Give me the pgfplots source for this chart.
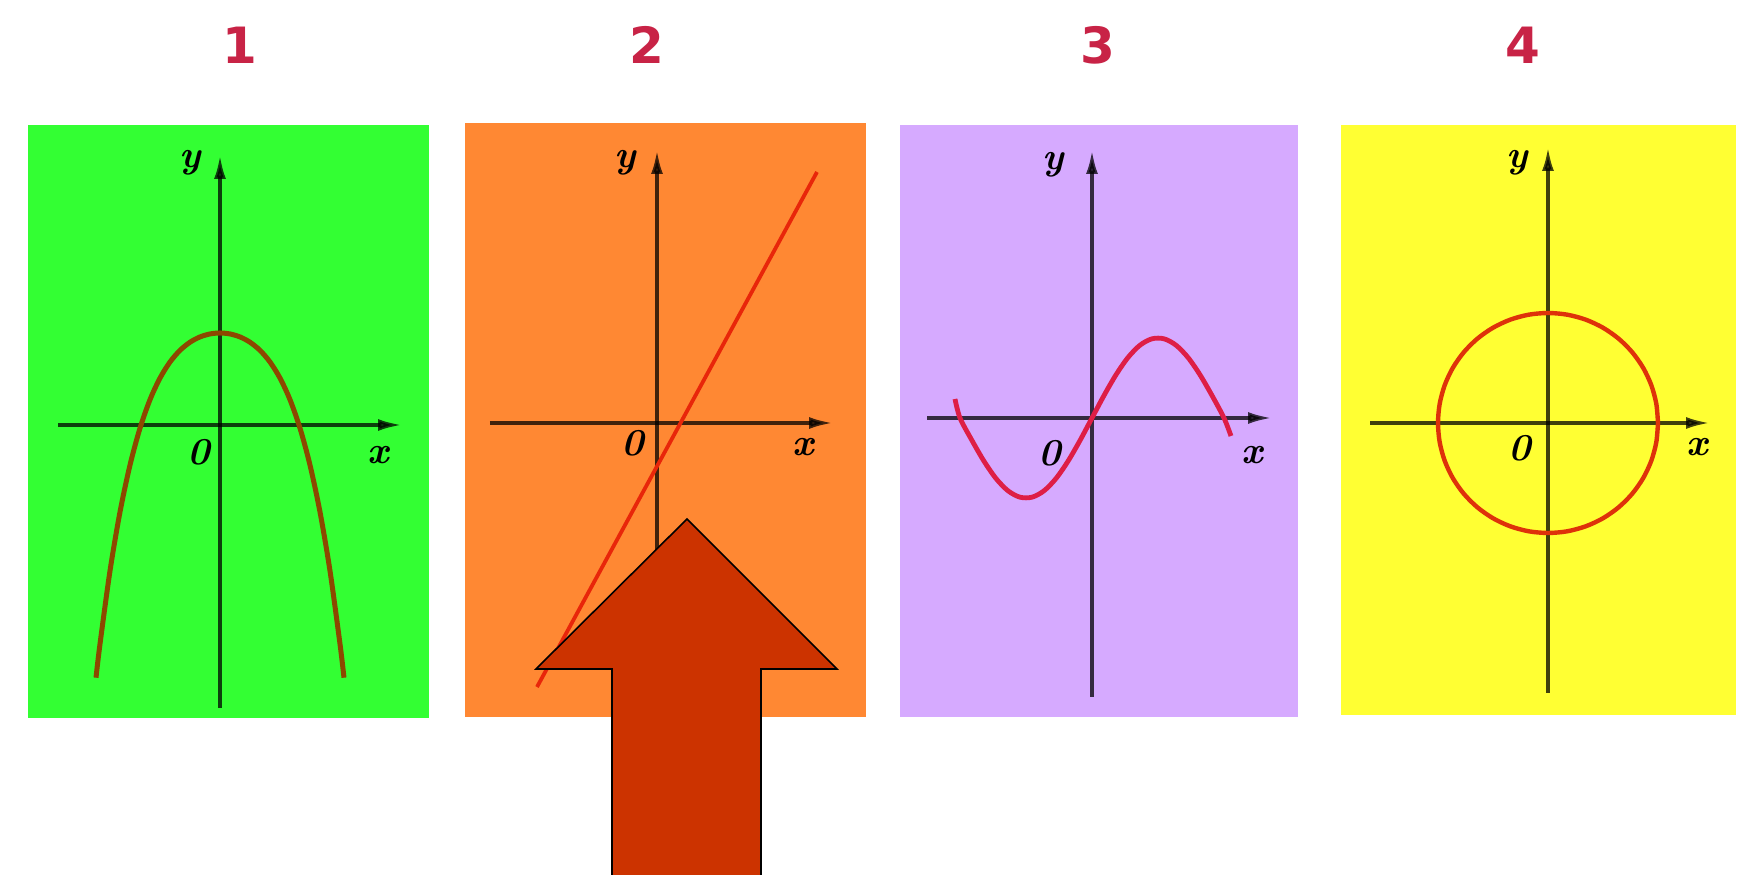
\documentclass[border=0pt]{standalone}
\usepackage{pgfplots}
\pgfplotsset{compat=1.18}
\usepackage{fontspec}
\setsansfont{DejaVu Sans}
\usetikzlibrary{arrows.meta}

\definecolor{bgA}{RGB}{51,255,51}
\definecolor{bgB}{RGB}{255,136,51}
\definecolor{bgC}{RGB}{214,170,255}
\definecolor{bgD}{RGB}{255,255,51}
\definecolor{brownline}{RGB}{140,72,0}
\definecolor{redline}{RGB}{232,38,10}
\definecolor{crimsonline}{RGB}{222,30,70}
\definecolor{circleline}{RGB}{222,50,10}
\definecolor{numc}{RGB}{200,35,70}
\definecolor{arrowc}{RGB}{204,51,0}

\pgfplotsset{
  panel/.style={
    axis lines=middle, x=0.25pt, y=0.25pt, ticks=none,
    anchor=origin, clip=false,
    axis line style={black, opacity=0.75, line width=0.85pt,
                     -{Latex[length=6pt,width=3pt]}},
  }
}
\newcommand{\lab}{\fontsize{9.5}{10}\selectfont\bfseries\itshape}
\newcommand{\num}{\fontsize{12.5}{14}\selectfont\sffamily\bfseries}

\begin{document}
\begin{tikzpicture}[x=0.25pt,y=-0.25pt]
\useasboundingbox (0,0) rectangle (1748,875);

% panel backgrounds
\fill[bgA] (28,125) rectangle (429,718);
\fill[bgB] (465,123) rectangle (866,717);
\fill[bgC] (900,125) rectangle (1298,717);
\fill[bgD] (1341,125) rectangle (1736,715);

% panel numbers
\node[numc] at (240,45) {\num 1};
\node[numc] at (647,45) {\num 2};
\node[numc] at (1098,45) {\num 3};
\node[numc] at (1523,45) {\num 4};

% 1: parabola-like curve
\begin{axis}[panel, at={(55pt,-106.25pt)}, xmin=-162, xmax=182, ymin=-283, ymax=270]
\addplot[color=brownline, line width=1.25pt, smooth] coordinates {
(-124,-252.7) (-120,-219) (-110,-145.9) (-100,-87) (-90,-40.1) (-80,-3.2) (-70,25.3)
(-60,46.9) (-50,63) (-40,74.65) (-30,82.77) (-20,88.07) (-10,91.04) (0,92)
(10,91.04) (20,88.07) (30,82.77) (40,74.65) (50,63) (60,46.9) (70,25.3) (80,-3.2)
(90,-40.1) (100,-87) (110,-145.9) (120,-219) (124,-252.7)};
\end{axis}
\node at (190,163) {\lab y};
\node at (199,452) {\lab 0};
\node at (378,455) {\lab x};

% 2: straight line
\begin{axis}[panel, at={(164.25pt,-105.75pt)}, xmin=-167, xmax=176, ymin=-285, ymax=273]
\addplot[color=redline, line width=0.95pt] coordinates {(-120,-264) (160,251)};
\end{axis}
\node at (625,163) {\lab y};
\node at (633,443) {\lab 0};
\node at (803,447) {\lab x};

% 3: sine-like curve
\begin{axis}[panel, at={(273pt,-104.5pt)}, xmin=-165, xmax=180, ymin=-279, ymax=268]
\addplot[color=crimsonline, line width=1.2pt, smooth] coordinates {
(-137,19) (-132,0) (-120,-22.5) (-108,-43.2) (-96,-60.5) (-84,-72.8) (-72,-79.2)
(-60,-79.2) (-48,-72.8) (-36,-60.5) (-24,-43.2) (-12,-22.5) (0,0) (12,22.5)
(24,43.2) (36,60.5) (48,72.8) (60,79.2) (72,79.2) (84,72.8) (96,60.5) (108,43.2)
(120,22.5) (132,0) (139,-18)};
\end{axis}
\node at (1053,165) {\lab y};
\node at (1050,453) {\lab 0};
\node at (1252,455) {\lab x};

% 4: circle
\begin{axis}[panel, at={(387pt,-105.75pt)}, xmin=-178, xmax=162, ymin=-270, ymax=276]
\addplot[color=circleline, line width=1.1pt, smooth] coordinates {
(110,0) (108.33,19.10) (103.37,37.62) (95.26,55) (84.26,70.71) (70.71,84.26)
(55,95.26) (37.62,103.37) (19.10,108.33) (0,110) (-19.10,108.33) (-37.62,103.37)
(-55,95.26) (-70.71,84.26) (-84.26,70.71) (-95.26,55) (-103.37,37.62) (-108.33,19.10)
(-110,0) (-108.33,-19.10) (-103.37,-37.62) (-95.26,-55) (-84.26,-70.71) (-70.71,-84.26)
(-55,-95.26) (-37.62,-103.37) (-19.10,-108.33) (0,-110) (19.10,-108.33) (37.62,-103.37)
(55,-95.26) (70.71,-84.26) (84.26,-70.71) (95.26,-55) (103.37,-37.62) (108.33,-19.10)
(110,0)};
\end{axis}
\node at (1517,163) {\lab y};
\node at (1520,448) {\lab 0};
\node at (1697,447) {\lab x};

% pointer arrow under panel 2
\draw[fill=arrowc, line width=0.4pt, line join=miter]
  (687,519) -- (837,669) -- (761,669) -- (761,876) -- (612,876) -- (612,669) -- (536,669) -- cycle;
\end{tikzpicture}
\end{document}
